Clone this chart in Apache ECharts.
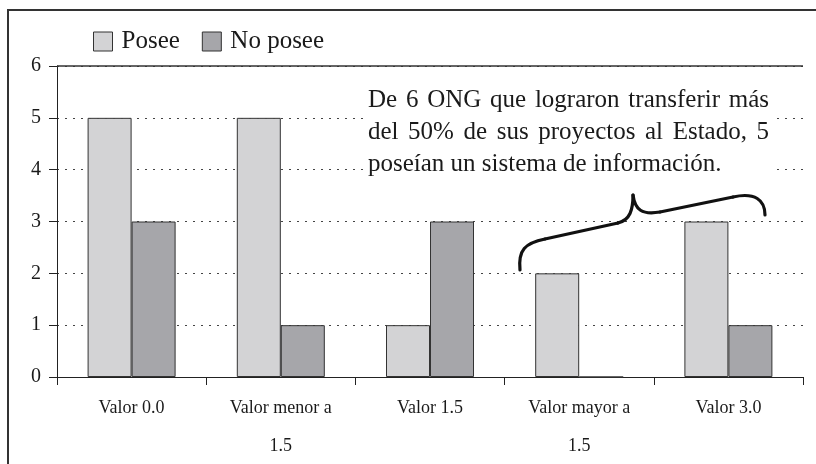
<!DOCTYPE html>
<html>
<head>
<meta charset="utf-8">
<script src="https://cdn.jsdelivr.net/npm/echarts@6/dist/echarts.min.js"></script>
<style>
  html, body { margin: 0; padding: 0; background: #fff; }
  #main { width: 816px; height: 464px; }
</style>
</head>
<body>
<div id="main"></div>
<script>
// datos del gráfico
const categories = ['Valor 0.0', 'Valor menor a\n1.5', 'Valor 1.5', 'Valor mayor a\n1.5', 'Valor 3.0'];
const posee = [5, 5, 1, 2, 3];
const noPosee = [3, 1, 3, 0, 1];
const seriesNames = ['Posee', 'No posee'];
const noteLines = [
  'De 6 ONG que lograron transferir más',
  'del 50% de sus proyectos al Estado, 5',
  'poseían un sistema de información.'
];

const FONT = '"Liberation Serif", "DejaVu Serif", serif';
const chart = echarts.init(document.getElementById('main'));

// texto justificado: una palabra por elemento
const NOTE_FONT = '25px ' + FONT;
const ctx = document.createElement('canvas').getContext('2d');
ctx.font = NOTE_FONT;
const noteLeft = 368, noteRight = 769, noteTop = [100, 132, 164];
let noteEls = [];
noteLines.forEach(function (line, i) {
    const words = line.split(' ');
    const widths = words.map(w => ctx.measureText(w).width);
    const total = widths.reduce((a, b) => a + b, 0);
    let gap = ctx.measureText(' ').width;
    if (i < noteLines.length - 1) gap = (noteRight - noteLeft - total) / (words.length - 1);
    let x = noteLeft;
    words.forEach(function (w, k) {
        noteEls.push({
            type: 'text', x: x, y: noteTop[i], z: 10,
            style: { text: w, font: NOTE_FONT, fill: '#1a1a1a', verticalAlign: 'middle' }
        });
        x += widths[k] + gap;
    });
});

// llave
const braceStyle = { fill: 'none', stroke: '#111', lineWidth: 3.2, lineCap: 'round' };
const brace = [
    { type: 'bezierCurve', shape: { x1: 520, y1: 270, cpx1: 518, cpy1: 250, cpx2: 525, cpy2: 243, x2: 545, y2: 239 } },
    { type: 'line', shape: { x1: 545, y1: 239, x2: 618, y2: 223 } },
    { type: 'bezierCurve', shape: { x1: 618, y1: 223, cpx1: 630, cpy1: 220, cpx2: 633, cpy2: 210, x2: 633, y2: 195 } },
    { type: 'bezierCurve', shape: { x1: 633, y1: 195, cpx1: 635, cpy1: 210, cpx2: 642, cpy2: 215, x2: 660, y2: 212 } },
    { type: 'line', shape: { x1: 660, y1: 212, x2: 733, y2: 197 } },
    { type: 'bezierCurve', shape: { x1: 733, y1: 197, cpx1: 755, cpy1: 192, cpx2: 765, cpy2: 200, x2: 765, y2: 215 } }
].map(e => Object.assign(e, { z: 10, silent: true, style: braceStyle }));

let option = {
    animation: false,
    textStyle: { fontFamily: FONT },
    legend: {
        left: 88,
        top: 24,
        itemWidth: 19,
        itemHeight: 19,
        itemGap: 22,
        icon: 'rect',
        textStyle: { fontSize: 25, color: '#1a1a1a', fontFamily: FONT, padding: [0, 0, 0, 4] },
        itemStyle: { borderColor: '#333', borderWidth: 1 },
        data: seriesNames
    },
    grid: { left: 57, right: 13, top: 66, bottom: 87, outerBoundsMode: 'none' },
    xAxis: {
        type: 'category',
        data: categories,
        axisLine: { lineStyle: { color: '#222', width: 1 } },
        axisTick: { show: true, length: 8, lineStyle: { color: '#222' } },
        axisLabel: { color: '#1a1a1a', fontSize: 18, margin: 12, lineHeight: 38, fontFamily: FONT }
    },
    yAxis: {
        type: 'value',
        min: 0,
        max: 6,
        interval: 1,
        axisLine: { show: true, lineStyle: { color: '#222', width: 1 } },
        axisTick: { show: true, length: 8, lineStyle: { color: '#222' } },
        axisLabel: { color: '#1a1a1a', fontSize: 20, margin: 16, fontFamily: FONT },
        splitLine: { lineStyle: { color: '#444', type: [2, 6], width: 1 } }
    },
    series: [
        {
            name: seriesNames[0],
            type: 'bar',
            data: posee,
            barWidth: 44,
            barGap: '0%',
            itemStyle: { color: '#d3d3d5', borderColor: '#333', borderWidth: 1 },
            markLine: {
                silent: true,
                symbol: 'none',
                label: { show: false },
                lineStyle: { color: '#333', type: 'solid', width: 1.5 },
                data: [{ yAxis: 6 }]
            }
        },
        {
            name: seriesNames[1],
            type: 'bar',
            data: noPosee,
            barWidth: 44,
            itemStyle: { color: '#a6a6aa', borderColor: '#333', borderWidth: 1 }
        }
    ],
    graphic: [
        {
            type: 'rect', z: 0, silent: true,
            shape: { x: 8, y: 10, width: 840, height: 500 },
            style: { fill: 'none', stroke: '#333', lineWidth: 2 }
        },
        {
            type: 'rect', z: 5, silent: true,
            shape: { x: 364, y: 82, width: 410, height: 100 },
            style: { fill: '#fff' }
        }
    ].concat(brace, noteEls)
};

chart.setOption(option);
</script>
</body>
</html>
